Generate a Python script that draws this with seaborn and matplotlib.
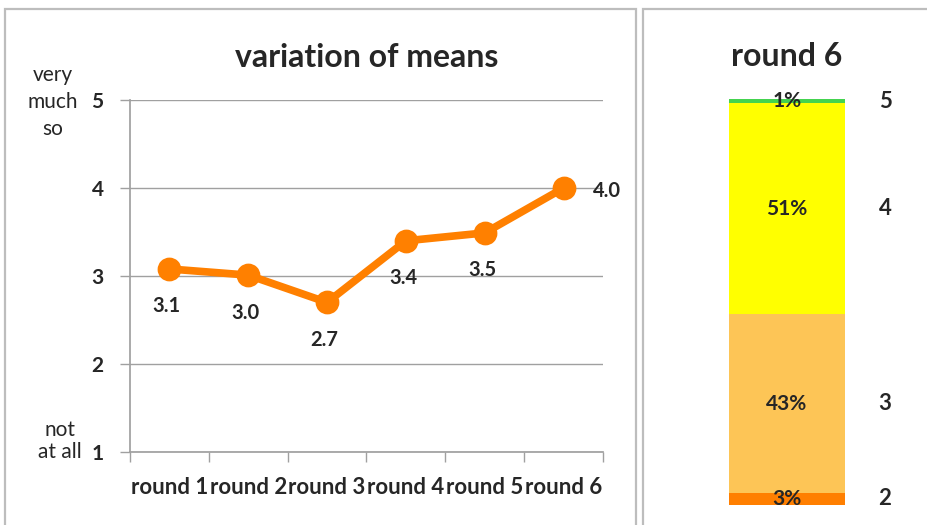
import numpy as np
import pandas as pd
import matplotlib
matplotlib.use("Agg")
import matplotlib.pyplot as plt
import matplotlib.transforms as mtransforms
from matplotlib.patches import Rectangle
import seaborn as sns

# ---- data ----
rounds = ["round 1", "round 2", "round 3", "round 4", "round 5", "round 6"]
means = [3.08, 3.01, 2.70, 3.40, 3.49, 4.00]
y_ticks = [1, 2, 3, 4, 5]
r6_levels = ["2", "3", "4", "5"]
r6_pct = [3, 43, 51, 1]
r6_colors = ["#FF7F00", "#FDC556", "#FFFF00", "#44D34F"]

sns.set_theme(style="white")
plt.rcParams["font.family"] = ["Lato", "DejaVu Sans"]

W, H = 928, 525
fig = plt.figure(figsize=(W / 100, H / 100), dpi=100)


def fx(x):
    return x / W


def fy(y):
    return 1 - y / H


# panel borders
fig.patches.append(Rectangle((fx(5), fy(540)), fx(636) - fx(5), fy(9) - fy(540),
                             transform=fig.transFigure, fill=False,
                             edgecolor="#BDBDBD", linewidth=1.6))
fig.patches.append(Rectangle((fx(643), fy(540)), fx(945) - fx(643), fy(9) - fy(540),
                             transform=fig.transFigure, fill=False,
                             edgecolor="#BDBDBD", linewidth=1.6))

# ---- left: line chart ----
ax = fig.add_axes([fx(130), fy(452), fx(603) - fx(130), fy(100) - fy(452)])
df = pd.DataFrame({"round": rounds, "mean": means})
sns.pointplot(data=df, x="round", y="mean", ax=ax, color="#FF8000",
              markers="o", linestyles="-", errorbar=None,
              markersize=13, linewidth=5.5)
ax.set_xlim(-0.5, len(rounds) - 0.5)
ax.set_ylim(1, 5)
ax.set_yticks(y_ticks)
ax.set_yticklabels([str(t) for t in y_ticks], fontweight="bold", fontsize=15)
ax.yaxis.grid(True, color="#A0A0A0", linewidth=1)
ax.set_axisbelow(True)
for s in ["top", "right"]:
    ax.spines[s].set_visible(False)
ax.spines["left"].set_color("#A0A0A0")
ax.spines["bottom"].set_color("#A0A0A0")
ax.tick_params(axis="y", length=7, width=1, color="#A0A0A0", pad=12, left=True)
ax.set_xticks(np.arange(len(rounds)))
ax.set_xticklabels(rounds, fontweight="bold", fontsize=16)
ax.tick_params(axis="x", length=0, pad=18, bottom=False)
# category boundary ticks
ax.set_xticks(np.arange(len(rounds) + 1) - 0.5, minor=True)
ax.tick_params(axis="x", which="minor", length=7, width=1, color="#A0A0A0", bottom=True)
ax.set_xlabel("")
ax.set_ylabel("")
ax.set_title("variation of means", fontweight="bold", fontsize=23, pad=24)

for i, v in enumerate(means):
    if i == len(means) - 1:
        ax.annotate(f"{v:.1f}", (i, v), xytext=(21, -2), textcoords="offset points",
                    ha="left", va="center", fontweight="bold", fontsize=14.5)
    else:
        ax.annotate(f"{v:.1f}", (i, v), xytext=(-2, -27), textcoords="offset points",
                    ha="center", va="center", fontweight="bold", fontsize=14.5)

fig.text(fx(53), fy(102), "very\nmuch\nso", ha="center", va="center",
         fontsize=15, linespacing=1.45)
fig.text(fx(60), fy(441), "not\nat all", ha="center", va="center",
         fontsize=15, linespacing=1.1)

# ---- right: stacked bar ----
ax2 = fig.add_axes([fx(729), fy(505), fx(845) - fx(729), fy(99) - fy(505)])
bottom = 0
total = sum(r6_pct)
trans = mtransforms.blended_transform_factory(ax2.transAxes, ax2.transData)
for lvl, p, c in zip(r6_levels, r6_pct, r6_colors):
    sns.barplot(x=[0], y=[p], bottom=bottom, color=c, width=1.0, ax=ax2,
                edgecolor="none", linewidth=0, saturation=1)
    mid = bottom + p / 2
    ax2.text(0.5, mid, f"{p}%", transform=trans, ha="center", va="center",
             fontweight="bold", fontsize=15)
    ax2.text(1.345, mid, lvl, transform=trans, ha="center", va="center",
             fontweight="bold", fontsize=16)
    bottom += p
ax2.set_xlim(-0.5, 0.5)
ax2.set_ylim(0, total)
ax2.axis("off")
ax2.set_title("round 6", fontweight="bold", fontsize=23, pad=24)

fig.savefig("out.png", dpi=100)
